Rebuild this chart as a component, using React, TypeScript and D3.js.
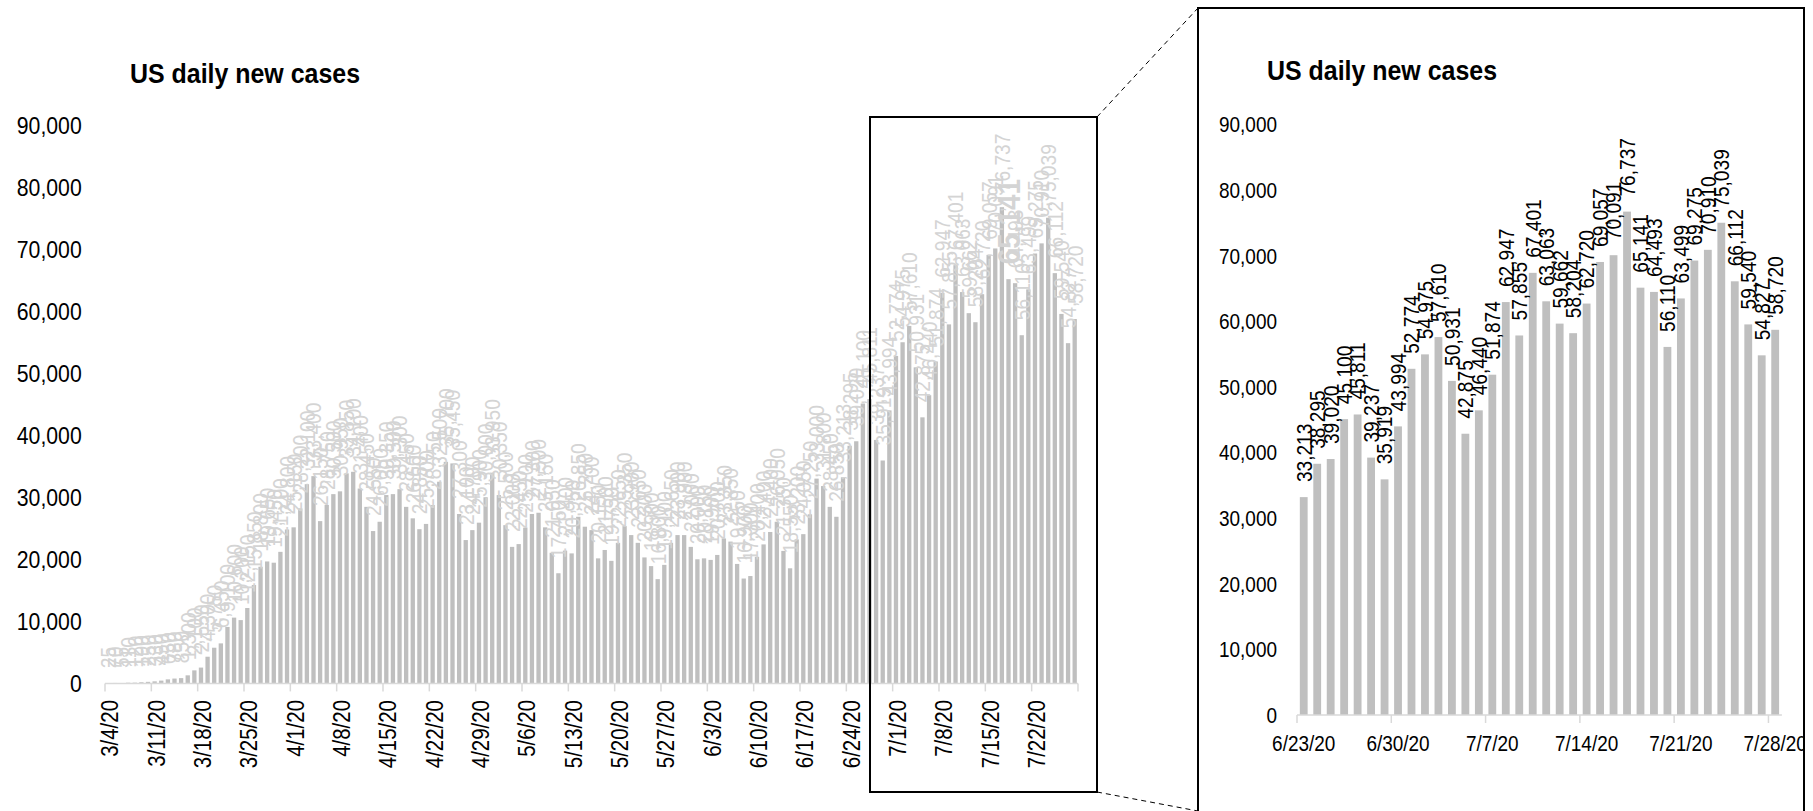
import React from "react";
import * as d3 from "d3";

// Daily new COVID-19 cases in the US, 3/4/20 – 7/28/20
const marchCases = [
  25, 70, 55, 110, 120, 190, 250, 330, 450, 650, 780, 850, 1300, 2100, 2550, 4300,
  5750, 6450, 9100, 10600, 10200, 12150, 15850, 18800, 19650, 19450, 21200, 24800,
];
const aprilCases = [
  25150, 28200, 32100, 33400, 26150, 28750, 30500, 30950, 33850, 34100, 31400, 28450,
  24550, 26050, 30350, 30500, 31300, 28450, 26600, 24850, 25700, 28750, 32500, 35700,
  35450, 27300, 23100, 24700, 25900, 30000,
];
const mayCases = [
  33950, 30350, 25500, 22000, 22450, 25100, 27300, 27500, 25150, 21050, 17750, 21400,
  20950, 26850, 25250, 24700, 20150, 21500, 19750, 22650, 25350, 23900, 22650, 20300,
  18900, 16800, 19100, 22650, 23900, 23900, 22000,
];
const juneCases = [
  20000, 20150, 19900, 20700, 23350, 22850, 19250, 16900, 17300, 20400, 22400, 24400,
  26050, 21350, 18550, 23200, 24050, 27250, 33000, 31800, 28450, 26850, 33213, 38295,
  39020, 45100, 45811, 39237, 35919, 43994,
];
const julyCases = [
  52774, 54975, 57610, 50931, 42875, 46440, 51874, 62947, 57855, 67401, 63063, 59662,
  58204, 62720, 69057, 70091, 76737, 65141, 64493, 56110, 63499, 69275, 70910, 75039,
  66112, 59540, 54827, 58720,
];

const firstDay = new Date(2020, 2, 4);
const lastDay = new Date(2020, 6, 28);
const zoomFirstDay = new Date(2020, 5, 23);
const highlightedDay = new Date(2020, 6, 18);

const yTicks = [0, 10000, 20000, 30000, 40000, 50000, 60000, 70000, 80000, 90000];
const titleText = "US daily new cases";

const cases = [...marchCases, ...aprilCases, ...mayCases, ...juneCases, ...julyCases];
const days = d3.timeDay.range(firstDay, d3.timeDay.offset(lastDay, 1));
const rows = days.map((d, i) => ({ date: d, value: cases[i] }));
const zoomRows = rows.filter((r) => r.date >= zoomFirstDay);

const fmtDate = d3.timeFormat("%-m/%-d/%y");
const fmtNum = d3.format(",");
const FONT = "'Liberation Sans', Arial, sans-serif";
const TITLE_FONT = "'Liberation Sans Narrow', 'Arial Narrow', 'Liberation Sans', Arial, sans-serif";
const BAR = "#bfbfbf";
const AXIS = "#d9d9d9";
const NARROW = 0.87; // horizontal squeeze for the narrow chart typeface

type NTextProps = {
  x: number;
  y: number;
  size: number;
  anchor?: "start" | "middle" | "end";
  rotate?: number;
  fill?: string;
  weight?: string;
  children: React.ReactNode;
};

// Text drawn in a condensed style: squeezed along its own writing direction.
function NText({ x, y, size, anchor = "start", rotate = 0, fill = "#000", weight = "normal", children }: NTextProps) {
  return (
    <text
      transform={`translate(${x},${y}) rotate(${rotate}) scale(${NARROW},1)`}
      textAnchor={anchor}
      fontSize={size}
      fontWeight={weight}
      fill={fill}
    >
      {children}
    </text>
  );
}

export default function App() {
  // overview chart
  const xL = d3
    .scaleBand<number>()
    .domain(rows.map((_, i) => i))
    .range([105, 105 + rows.length * 6.619])
    .paddingInner(0.35)
    .paddingOuter(0.175);
  const yL = d3.scaleLinear().domain([0, 90000]).range([683.4, 124.9]);
  const stepL = xL.step();
  const x0L = xL.range()[0];

  // zoomed chart
  const xR = d3
    .scaleBand<number>()
    .domain(zoomRows.map((_, i) => i))
    .range([1297, 1297 + zoomRows.length * 13.47])
    .paddingInner(0.42)
    .paddingOuter(0.21);
  const yR = d3.scaleLinear().domain([0, 90000]).range([715, 124.6]);
  const stepR = xR.step();
  const x0R = xR.range()[0];

  const weeksL = d3.range(0, rows.length + 1, 7);
  const weeksR = d3.range(0, zoomRows.length, 7);

  const fsTickL = 24.4;
  const fsDateL = 23.5;
  const fsTickR = 21.8;
  const fsVal = 22;
  const fsBig = 32;

  // zoom frame on the overview
  const frame = { x0: 870, x1: 1097, y0: 117, y1: 792 };
  const panel = { x0: 1198, x1: 1804, y0: 8 };

  return (
    <svg
      width={1813}
      height={811}
      style={{ position: "absolute", left: 0, top: 0, background: "#fff" }}
      fontFamily={FONT}
    >
      <defs>
        <clipPath id="panelClip">
          <rect x={panel.x0 + 1} y={panel.y0 + 1} width={panel.x1 - panel.x0 - 2} height={811} />
        </clipPath>
      </defs>
      <rect x={0} y={0} width={1813} height={811} fill="#fff" />

      {/* ---------- overview ---------- */}
      <text
        x={130}
        y={82.7}
        fontFamily={TITLE_FONT}
        fontWeight="bold"
        fontSize={28}
        textLength={230}
        lengthAdjust="spacingAndGlyphs"
        fill="#000"
      >
        {titleText}
      </text>
      {yTicks.map((t) => (
        <NText key={t} x={81.7} y={yL(t) + 0.358 * fsTickL} anchor="end" size={fsTickL}>
          {fmtNum(t)}
        </NText>
      ))}
      {rows.map((r, i) => (
        <rect key={i} x={xL(i)} y={yL(r.value)} width={xL.bandwidth()} height={yL(0) - yL(r.value)} fill={BAR} />
      ))}
      <line x1={x0L} x2={x0L + stepL * rows.length} y1={yL(0)} y2={yL(0)} stroke={AXIS} strokeWidth={1.5} />
      {weeksL.map((k) => (
        <line key={k} x1={x0L + stepL * k} x2={x0L + stepL * k} y1={yL(0)} y2={yL(0) + 8} stroke={AXIS} strokeWidth={1.5} />
      ))}
      {weeksL
        .filter((k) => k < rows.length)
        .map((k) => {
          const cx = (xL(k) as number) + xL.bandwidth() / 2 + 1.5;
          return (
            <NText key={k} x={cx + 0.358 * fsDateL} y={700} rotate={-90} anchor="end" size={fsDateL}>
              {fmtDate(rows[k].date)}
            </NText>
          );
        })}
      {rows.map((r, i) => {
        const big = +r.date === +highlightedDay;
        const fs = big ? fsBig : fsVal;
        const cx = (xL(i) as number) + xL.bandwidth() / 2;
        return (
          <NText
            key={i}
            x={cx + 0.358 * fs}
            y={yL(r.value) - 15}
            rotate={-90}
            size={fs}
            weight={big ? "bold" : "normal"}
            fill="#d4d4d4"
          >
            {fmtNum(r.value)}
          </NText>
        );
      })}
      <rect
        x={frame.x0}
        y={frame.y0}
        width={frame.x1 - frame.x0}
        height={frame.y1 - frame.y0}
        fill="none"
        stroke="#000"
        strokeWidth={2}
      />
      <line x1={frame.x1} y1={frame.y0} x2={panel.x0} y2={panel.y0} stroke="#000" strokeWidth={1} strokeDasharray="5,4" />
      <line x1={frame.x1} y1={frame.y1} x2={panel.x0} y2={811} stroke="#000" strokeWidth={1} strokeDasharray="5,4" />

      {/* ---------- zoomed panel ---------- */}
      <g clipPath="url(#panelClip)">
        <text
          x={1267}
          y={80}
          fontFamily={TITLE_FONT}
          fontWeight="bold"
          fontSize={28}
          textLength={230}
          lengthAdjust="spacingAndGlyphs"
          fill="#000"
        >
          {titleText}
        </text>
        {yTicks.map((t) => (
          <NText key={t} x={1277} y={yR(t) + 0.358 * fsTickR} anchor="end" size={fsTickR}>
            {fmtNum(t)}
          </NText>
        ))}
        {zoomRows.map((r, i) => (
          <rect key={i} x={xR(i)} y={yR(r.value)} width={xR.bandwidth()} height={yR(0) - yR(r.value)} fill={BAR} />
        ))}
        <line x1={x0R} x2={x0R + stepR * zoomRows.length} y1={yR(0)} y2={yR(0)} stroke={AXIS} strokeWidth={1.5} />
        {weeksR.map((k) => (
          <line key={k} x1={x0R + stepR * k} x2={x0R + stepR * k} y1={yR(0)} y2={yR(0) + 8} stroke={AXIS} strokeWidth={1.5} />
        ))}
        {weeksR.map((k) => (
          <NText key={k} x={(xR(k) as number) + xR.bandwidth() / 2} y={751} anchor="middle" size={fsTickR}>
            {fmtDate(zoomRows[k].date)}
          </NText>
        ))}
        {zoomRows.map((r, i) => {
          const cx = (xR(i) as number) + xR.bandwidth() / 2;
          return (
            <NText key={i} x={cx + 0.358 * fsVal} y={yR(r.value) - 15} rotate={-90} size={fsVal}>
              {fmtNum(r.value)}
            </NText>
          );
        })}
      </g>
      <polyline
        points={`${panel.x0},811 ${panel.x0},${panel.y0} ${panel.x1},${panel.y0} ${panel.x1},811`}
        fill="none"
        stroke="#000"
        strokeWidth={2}
      />
    </svg>
  );
}
